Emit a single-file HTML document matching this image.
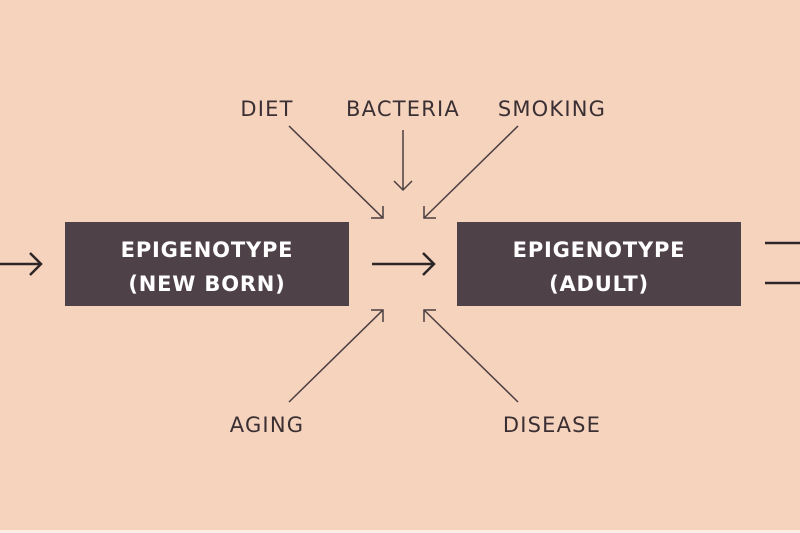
<!DOCTYPE html>
<html><head><style>
html,body{margin:0;padding:0;background:#f6d3bd;}
svg{display:block}
</style></head><body>
<svg width="800" height="533" viewBox="0 0 800 533" xmlns="http://www.w3.org/2000/svg">
<rect width="800" height="530" fill="#f6d3bd"/>
<rect y="530" width="800" height="3" fill="#fbeee6"/>
<rect x="65" y="222" width="284" height="84" fill="#4f4148"/>
<rect x="457" y="222" width="284" height="84" fill="#4f4148"/>
<g font-family="'DejaVu Sans', 'Liberation Sans', sans-serif" font-weight="bold" font-size="21" fill="#fff" text-anchor="middle" letter-spacing="0.8">
<text x="207" y="257">EPIGENOTYPE</text>
<text x="207" y="291">(NEW BORN)</text>
<text x="599" y="257">EPIGENOTYPE</text>
<text x="599" y="291">(ADULT)</text>
</g>
<g font-family="'DejaVu Sans', 'Liberation Sans', sans-serif" font-size="21" fill="#3a2f33" text-anchor="middle" letter-spacing="1.2">
<text x="267" y="116">DIET</text>
<text x="403" y="116">BACTERIA</text>
<text x="552" y="116">SMOKING</text>
<text x="267" y="432">AGING</text>
<text x="552" y="432">DISEASE</text>
</g>
<g stroke="#2e2628" fill="none" stroke-width="2.5">
<line x1="0" y1="264" x2="41" y2="264"/><polyline points="30,253 41,264 30,275"/>
<line x1="372" y1="264" x2="434" y2="264"/><polyline points="423,253 434,264 423,275"/>
<line x1="765" y1="243" x2="800" y2="243"/>
<line x1="765" y1="283" x2="800" y2="283"/>
</g>
<g stroke="#4a3e40" fill="none" stroke-width="1.5">
<line x1="289" y1="126" x2="383" y2="218"/><polyline points="383,206 383,218 371,218"/>
<line x1="403" y1="130" x2="403" y2="190"/><polyline points="394,181 403,190 412,181"/>
<line x1="518" y1="126" x2="424" y2="218"/><polyline points="424,206 424,218 436,218"/>
<line x1="289" y1="402" x2="383" y2="310"/><polyline points="383,322 383,310 371,310"/>
<line x1="518" y1="402" x2="424" y2="310"/><polyline points="424,322 424,310 436,310"/>
</g>
</svg>
</body></html>
